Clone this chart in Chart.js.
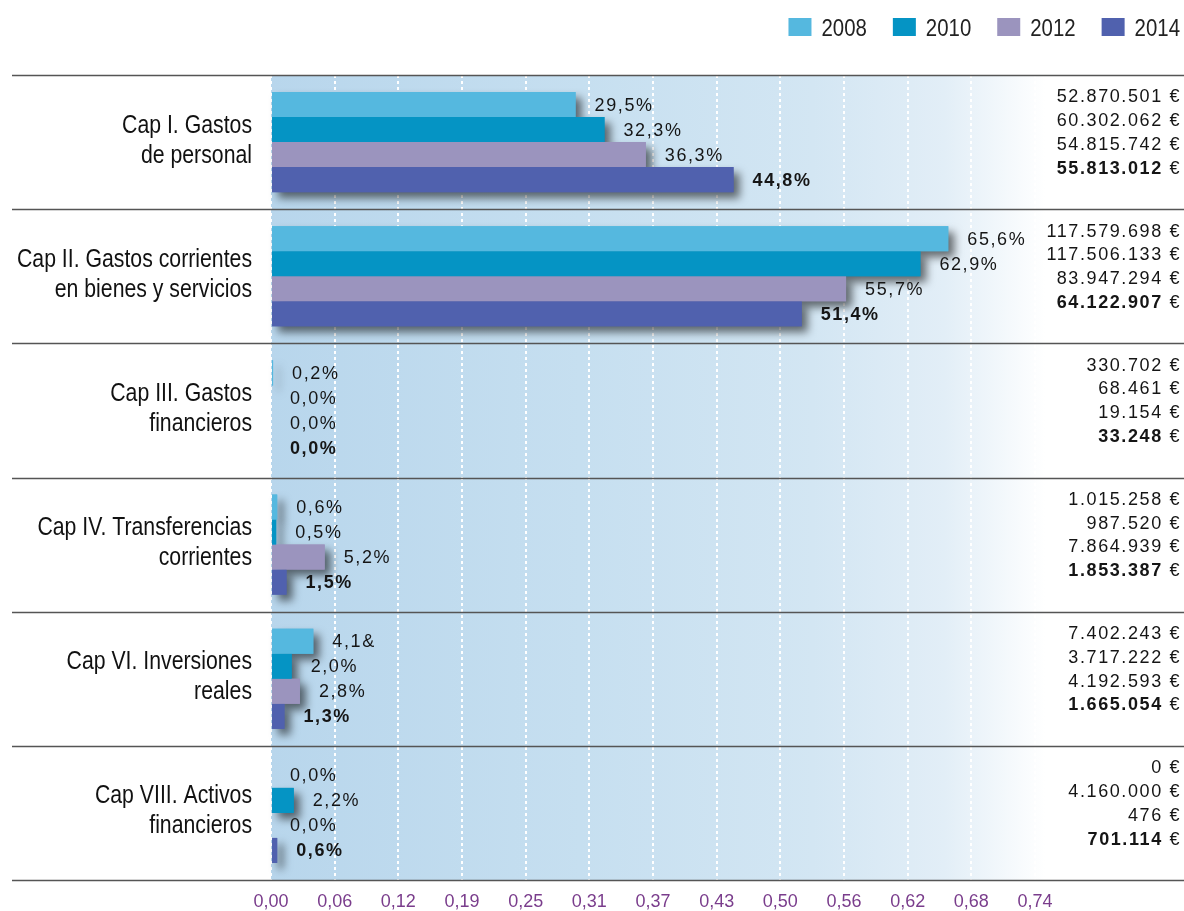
<!DOCTYPE html>
<html>
<head>
<meta charset="utf-8">
<script src="https://cdn.jsdelivr.net/npm/chart.js@4.4.1/dist/chart.umd.min.js"></script>
<style>
    html, body { margin: 0; padding: 0; background: #ffffff; overflow: hidden; }
    #wrap { width: 1184px; height: 911px; position: relative; }
</style>
</head>
<body>
<div id="wrap"><canvas id="gastosChart" width="1184" height="911"></canvas></div>
<script>
// ===============================
// DATOS
// ===============================

const capitulos = [
    ["Cap I. Gastos", "de personal"],
    ["Cap II. Gastos corrientes", "en bienes y servicios"],
    ["Cap III. Gastos", "financieros"],
    ["Cap IV. Transferencias", "corrientes"],
    ["Cap VI. Inversiones", "reales"],
    ["Cap VIII. Activos", "financieros"]
];

const anios = ["2008", "2010", "2012", "2014"];

// share of the total budget (fraction)
const share2008 = [0.295, 0.656, 0.002, 0.006, 0.041, 0.000];
const share2010 = [0.323, 0.629, 0.000, 0.005, 0.020, 0.022];
const share2012 = [0.363, 0.557, 0.000, 0.052, 0.028, 0.000];
const share2014 = [0.448, 0.514, 0.000, 0.015, 0.013, 0.006];

// labels as printed next to each bar
const pct2008 = ["29,5%", "65,6%", "0,2%", "0,6%", "4,1&", "0,0%"];
const pct2010 = ["32,3%", "62,9%", "0,0%", "0,5%", "2,0%", "2,2%"];
const pct2012 = ["36,3%", "55,7%", "0,0%", "5,2%", "2,8%", "0,0%"];
const pct2014 = ["44,8%", "51,4%", "0,0%", "1,5%", "1,3%", "0,6%"];

// amounts in euros (right column)
const euros2008 = ["52.870.501", "117.579.698", "330.702", "1.015.258", "7.402.243", "0"];
const euros2010 = ["60.302.062", "117.506.133", "68.461", "987.520", "3.717.222", "4.160.000"];
const euros2012 = ["54.815.742", "83.947.294", "19.154", "7.864.939", "4.192.593", "476"];
const euros2014 = ["55.813.012", "64.122.907", "33.248", "1.853.387", "1.665.054", "701.114"];

const xTickLabels = [
    "0,00", "0,06", "0,12", "0,19", "0,25", "0,31", "0,37",
    "0,43", "0,50", "0,56", "0,62", "0,68", "0,74"
];
const xMax = 0.74;

// ===============================
// ESTILO
// ===============================

const colores = ["#55b8df", "#0594c4", "#9b94be", "#5061ae"];
const plainFont = "'Liberation Sans', Arial, Helvetica, sans-serif";
const narrowScale = 0.85; // Liberation Sans squeezed to look like a narrow face

const shares = [share2008, share2010, share2012, share2014];
const pctLabels = [pct2008, pct2010, pct2012, pct2014];
const euroLabels = [euros2008, euros2010, euros2012, euros2014];

function narrowText(ctx, text, x, y, align) {
    ctx.save();
    ctx.translate(x, y);
    ctx.scale(narrowScale, 1);
    ctx.textAlign = align;
    ctx.fillText(text, 0, 0);
    ctx.restore();
}

// background gradient, separators, bar shadows and all the text
const fondoPlugin = {
    id: "fondo",
    beforeDraw(chart) {
        const { ctx, chartArea: a } = chart;
        const right = a.right + 10;
        const g = ctx.createLinearGradient(a.left, 0, right, 0);
        g.addColorStop(0, "#b8d6ec");
        g.addColorStop(0.4, "#c6dff0");
        g.addColorStop(0.7, "#d3e6f3");
        g.addColorStop(0.87, "#e2eef7");
        g.addColorStop(1, "#ffffff");
        ctx.save();
        ctx.fillStyle = g;
        ctx.fillRect(a.left, a.top, right - a.left, a.bottom - a.top);
        ctx.restore();
    },
    beforeDatasetsDraw(chart) {
        const { ctx, chartArea: a } = chart;
        const yScale = chart.scales.y;
        const band = (a.bottom - a.top) / capitulos.length;

        ctx.save();
        ctx.strokeStyle = "#555555";
        ctx.lineWidth = 1.6;
        for (let i = 0; i <= capitulos.length; i++) {
            const y = Math.round(i < capitulos.length
                ? yScale.getPixelForValue(i) - band / 2
                : yScale.getPixelForValue(i - 1) + band / 2) + 0.5;
            ctx.beginPath();
            ctx.moveTo(12, y);
            ctx.lineTo(chart.width, y);
            ctx.stroke();
        }
        ctx.restore();

        ctx.save();
        ctx.shadowColor = "rgba(0,0,0,0.55)";
        ctx.shadowBlur = 9;
        ctx.shadowOffsetX = 6;
        ctx.shadowOffsetY = 6;
        chart.data.datasets.forEach((ds, i) => {
            chart.getDatasetMeta(i).data.forEach((bar) => {
                const w = bar.x - bar.base;
                if (w < 0.5) return;
                ctx.fillStyle = ds.backgroundColor;
                ctx.fillRect(bar.base, bar.y - bar.height / 2, w, bar.height);
            });
        });
        ctx.restore();
    },
    afterDatasetsDraw(chart) {
        const ctx = chart.ctx;
        const yScale = chart.scales.y;
        ctx.save();
        ctx.fillStyle = "#151515";
        ctx.textBaseline = "middle";
        ctx.letterSpacing = "1.6px";

        // percent labels next to bars
        ctx.textAlign = "left";
        chart.data.datasets.forEach((ds, i) => {
            ctx.font = (i === 3 ? "bold " : "") + "18px " + plainFont;
            chart.getDatasetMeta(i).data.forEach((bar, j) => {
                const x = Math.max(bar.x, bar.base) + 19;
                ctx.fillText(pctLabels[i][j], x, bar.y + 1);
            });
        });

        // euro amounts on the right
        ctx.textAlign = "right";
        const rightEdge = chart.width - 3;
        capitulos.forEach((c, j) => {
            const center = yScale.getPixelForValue(j) - 9;
            euroLabels.forEach((col, k) => {
                const y = center + (k - 1.5) * 23.8;
                ctx.font = "18px " + plainFont;
                ctx.fillText("€", rightEdge, y);
                const euroW = ctx.measureText(" €").width;
                ctx.font = (k === 3 ? "bold " : "") + "18px " + plainFont;
                ctx.fillText(col[j], rightEdge - euroW, y);
            });
        });
        ctx.restore();
    },
    afterDraw(chart) {
        const ctx = chart.ctx;
        const yScale = chart.scales.y;

        // category names, right aligned before the plot
        ctx.save();
        ctx.fillStyle = "#111111";
        ctx.textBaseline = "alphabetic";
        ctx.font = "25px " + plainFont;
        capitulos.forEach((lines, j) => {
            const c = yScale.getPixelForValue(j);
            narrowText(ctx, lines[0], 252, c - 9.5, "right");
            narrowText(ctx, lines[1], 252, c + 20.5, "right");
        });
        ctx.restore();

        // legend, top right
        ctx.save();
        ctx.font = "24px " + plainFont;
        ctx.textBaseline = "middle";
        let x = chart.width - 4;
        for (let i = anios.length - 1; i >= 0; i--) {
            const tw = ctx.measureText(anios[i]).width * narrowScale;
            const textX = x - tw;
            ctx.fillStyle = "#222222";
            narrowText(ctx, anios[i], textX, 29, "left");
            ctx.fillStyle = colores[i];
            ctx.fillRect(textX - 33, 18, 23, 18);
            x = textX - 33 - 26;
        }
        ctx.restore();
    }
};

// ===============================
// GRAFICO
// ===============================

new Chart(document.getElementById("gastosChart"), {
    type: "bar",
    data: {
        labels: capitulos,
        datasets: anios.map((a, i) => ({
            label: a,
            data: shares[i],
            backgroundColor: colores[i],
            borderWidth: 0,
            categoryPercentage: 0.746,
            barPercentage: 1
        }))
    },
    options: {
        indexAxis: "y",
        responsive: false,
        animation: false,
        layout: {
            padding: { top: 75, right: 149, bottom: 0, left: 0 }
        },
        plugins: {
            legend: { display: false },
            tooltip: { enabled: false }
        },
        scales: {
            x: {
                min: 0,
                max: xMax,
                afterFit: (scale) => { scale.height = 31; },
                ticks: {
                    count: xTickLabels.length,
                    color: "#7a3d8c",
                    padding: 11,
                    maxRotation: 0,
                    font: { family: plainFont, size: 18 },
                    callback: (v, i) => xTickLabels[i]
                },
                grid: {
                    color: "#ffffff",
                    lineWidth: 2,
                    drawTicks: false
                },
                border: { display: false, dash: [3, 3] }
            },
            y: {
                afterFit: (scale) => {
                    scale.width = 271;
                    scale.paddingTop = 0;
                    scale.paddingBottom = 0;
                },
                ticks: { display: false },
                grid: { display: false, drawTicks: false },
                border: { display: false }
            }
        }
    },
    plugins: [fondoPlugin]
});
</script>
</body>
</html>
